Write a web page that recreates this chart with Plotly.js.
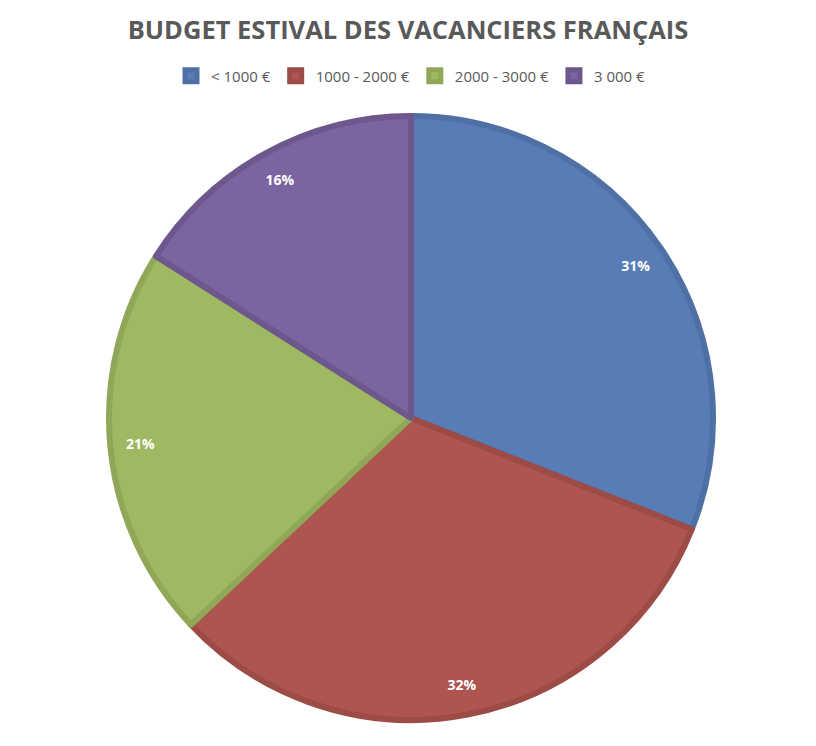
<!DOCTYPE html>
<html>
<head>
<meta charset="utf-8">
<script src="https://cdn.plot.ly/plotly-3.0.1.min.js"></script>
<style>html,body{margin:0;padding:0;background:#fff;}#chart{width:816px;height:746px;}</style>
</head>
<body>
<div id="chart"></div>
<script>
const categories = ["< 1000 €", "1000 - 2000 €", "2000 - 3000 €", "3 000 €"];
const values = [31, 32, 21, 16];
const fillColors = ["#587DB6", "#AE5550", "#9FB862", "#7C64A0"];
const edgeColors = ["#4F70A5", "#9D4B46", "#8FA757", "#6D578D"];

const pieTrace = {
  type: "pie",
  labels: categories,
  values: values,
  sort: false,
  direction: "clockwise",
  rotation: 0,
  marker: { colors: fillColors, line: { color: edgeColors, width: 6 } },
  textinfo: "none",
  hoverinfo: "label+percent",
  domain: { x: [0, 1], y: [0, 1] }
};

// Transparent ring overlay carrying the percentage labels near the rim
const labelTrace = {
  type: "pie",
  labels: categories,
  values: values,
  sort: false,
  direction: "clockwise",
  rotation: 0,
  hole: 0.8,
  showlegend: false,
  marker: { colors: ["rgba(0,0,0,0)", "rgba(0,0,0,0)", "rgba(0,0,0,0)", "rgba(0,0,0,0)"], line: { width: 0 } },
  texttemplate: "%{percent:.0%}",
  textposition: "inside",
  insidetextorientation: "horizontal",
  textfont: { family: "'Open Sans', Lato, sans-serif", size: 14, color: "#ffffff", weight: "bold" },
  hoverinfo: "skip",
  domain: { x: [0, 1], y: [0, 1] }
};

const layout = {
  width: 816, height: 746,
  margin: { l: 6, r: 0, t: 116, b: 26 },
  paper_bgcolor: "#ffffff",
  title: {
    text: "<b>BUDGET ESTIVAL DES VACANCIERS FRANÇAIS</b>",
    font: { family: "'Open Sans', Lato, sans-serif", size: 25.5, color: "#595959" },
    x: 0.5, xanchor: "center",
    yref: "container", y: 1 - 30/746, yanchor: "middle"
  },
  showlegend: true,
  legend: {
    orientation: "h",
    x: 0.5, xanchor: "center",
    yref: "container", y: 1 - 76/746, yanchor: "middle",
    font: { family: "'Open Sans', Lato, sans-serif", size: 15, color: "#595959" },
    traceorder: "normal"
  }
};

Plotly.newPlot("chart", [pieTrace, labelTrace], layout, { displayModeBar: false, staticPlot: true });
</script>
</body>
</html>
